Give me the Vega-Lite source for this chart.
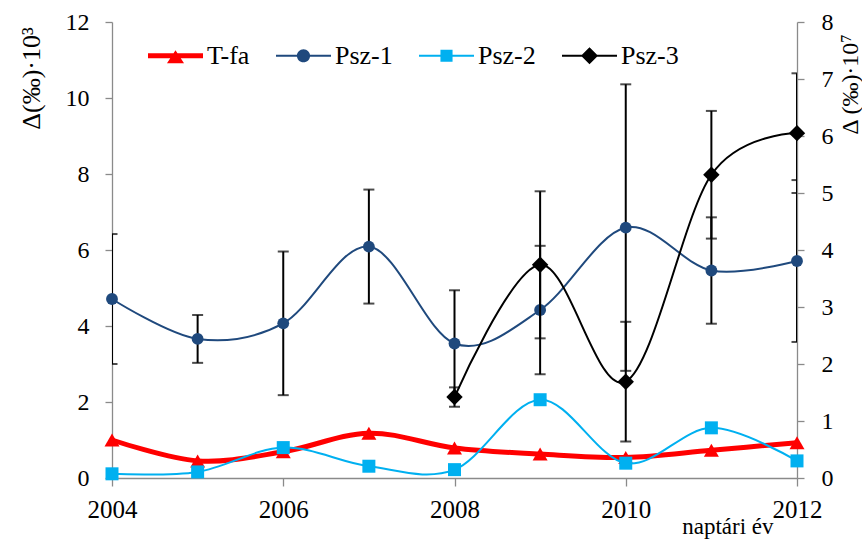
{
  "$schema": "https://vega.github.io/schema/vega-lite/v6.json",
  "width": 685,
  "height": 456,
  "autosize": {"type": "none"},
  "padding": {"left": 112, "top": 22, "right": 65, "bottom": 64},
  "background": "white",
  "config": {
    "font": "'Liberation Serif', 'Times New Roman', serif",
    "view": {"stroke": null},
    "axis": {
      "grid": false,
      "domainColor": "#8a8a8a",
      "domainWidth": 1.3,
      "tickColor": "#8a8a8a",
      "tickWidth": 1.3,
      "labelColor": "black",
      "titleColor": "black",
      "labelFont": "'Liberation Serif', 'Times New Roman', serif",
      "titleFont": "'Liberation Serif', 'Times New Roman', serif",
      "titleFontWeight": "normal",
      "labelFlush": false,
      "labelOverlap": false
    }
  },
  "datasets": {
    "obs": [
      {"year": 2004, "series": "T-fa", "value": 1.0},
      {"year": 2005, "series": "T-fa", "value": 0.45},
      {"year": 2006, "series": "T-fa", "value": 0.69},
      {"year": 2007, "series": "T-fa", "value": 1.18},
      {"year": 2008, "series": "T-fa", "value": 0.79},
      {"year": 2009, "series": "T-fa", "value": 0.63},
      {"year": 2010, "series": "T-fa", "value": 0.54},
      {"year": 2011, "series": "T-fa", "value": 0.73},
      {"year": 2012, "series": "T-fa", "value": 0.93},
      {"year": 2004, "series": "Psz-1", "value": 4.71, "err": 1.71},
      {"year": 2005, "series": "Psz-1", "value": 3.66, "err": 0.63},
      {"year": 2006, "series": "Psz-1", "value": 4.07, "err": 1.89},
      {"year": 2007, "series": "Psz-1", "value": 6.09, "err": 1.5},
      {"year": 2008, "series": "Psz-1", "value": 3.54, "err": 1.4},
      {"year": 2009, "series": "Psz-1", "value": 4.42, "err": 1.69},
      {"year": 2010, "series": "Psz-1", "value": 6.59, "err": 3.77},
      {"year": 2011, "series": "Psz-1", "value": 5.46, "err": 1.4},
      {"year": 2012, "series": "Psz-1", "value": 5.71, "err": 2.13},
      {"year": 2004, "series": "Psz-2", "value": 0.11},
      {"year": 2005, "series": "Psz-2", "value": 0.16},
      {"year": 2006, "series": "Psz-2", "value": 0.8},
      {"year": 2007, "series": "Psz-2", "value": 0.31},
      {"year": 2008, "series": "Psz-2", "value": 0.22},
      {"year": 2009, "series": "Psz-2", "value": 2.06},
      {"year": 2010, "series": "Psz-2", "value": 0.39},
      {"year": 2011, "series": "Psz-2", "value": 1.32},
      {"year": 2012, "series": "Psz-2", "value": 0.45},
      {"year": 2008, "series": "Psz-3", "value": 1.42, "err": 0.17},
      {"year": 2009, "series": "Psz-3", "value": 3.74, "err": 1.29},
      {"year": 2010, "series": "Psz-3", "value": 1.69, "err": 1.05},
      {"year": 2011, "series": "Psz-3", "value": 5.32, "err": 1.12},
      {"year": 2012, "series": "Psz-3", "value": 6.05, "err": 1.05}
    ]
  },
  "data": {"name": "obs"},
  "encoding": {
    "x": {
      "field": "year",
      "type": "quantitative",
      "scale": {"domain": [2004, 2012], "nice": false, "zero": false},
      "axis": {
        "values": [2004, 2006, 2008, 2010, 2012],
        "format": "d",
        "labelFontSize": 25,
        "tickSize": 8,
        "labelPadding": 11,
        "title": "naptári év",
        "titleFontSize": 23,
        "titleX": 661,
        "titleY": 55,
        "titleAlign": "right",
        "titleBaseline": "alphabetic"
      }
    }
  },
  "layer": [
    {
      "encoding": {
        "y": {
          "field": "value",
          "type": "quantitative",
          "scale": {"domain": [0, 12], "nice": false},
          "axis": {
            "values": [0, 2, 4, 6, 8, 10, 12],
            "labelFontSize": 24,
            "tickSize": 7,
            "labelPadding": 16,
            "title": "Δ(‰)·10³",
            "titleFontSize": 26,
            "titleAngle": 270,
            "titleX": -73,
            "titleY": 56,
            "titleAlign": "center",
            "titleBaseline": "alphabetic"
          }
        }
      },
      "layer": [
        {
          "transform": [{"filter": "datum.series === 'Psz-1'"}],
          "mark": {
            "type": "errorbar",
            "clip": true,
            "color": "black",
            "rule": {"strokeWidth": 2, "color": "black"},
            "ticks": {"size": 11, "thickness": 2, "color": "black"}
          },
          "encoding": {"yError": {"field": "err"}}
        },
        {
          "transform": [{"filter": "datum.series === 'T-fa'"}],
          "mark": {"type": "line", "interpolate": "cardinal", "color": "#ff0000", "strokeWidth": 5, "strokeCap": "round"},
          "encoding": {}
        },
        {
          "transform": [{"filter": "datum.series === 'T-fa'"}],
          "mark": {"type": "point", "shape": "triangle-up", "filled": true, "size": 225, "color": "#ff0000", "opacity": 1},
          "encoding": {}
        },
        {
          "transform": [{"filter": "datum.series === 'Psz-1'"}],
          "mark": {"type": "line", "interpolate": "cardinal", "color": "#1f497d", "strokeWidth": 2},
          "encoding": {}
        },
        {
          "transform": [{"filter": "datum.series === 'Psz-1'"}],
          "mark": {"type": "point", "shape": "circle", "filled": true, "size": 140, "color": "#1f497d", "opacity": 1},
          "encoding": {}
        },
        {
          "transform": [{"filter": "datum.series === 'Psz-2'"}],
          "mark": {"type": "line", "interpolate": "cardinal", "color": "#00b0f0", "strokeWidth": 2},
          "encoding": {}
        },
        {
          "transform": [{"filter": "datum.series === 'Psz-2'"}],
          "mark": {"type": "point", "shape": "square", "filled": true, "size": 169, "color": "#00b0f0", "opacity": 1},
          "encoding": {}
        },
        {
          "mark": {"type": "point", "filled": true, "opacity": 0},
          "encoding": {
            "color": {
              "field": "series",
              "type": "nominal",
              "scale": {
                "domain": ["T-fa", "Psz-1", "Psz-2", "Psz-3"],
                "range": ["#ff0000", "#1f497d", "#00b0f0", "#000000"]
              },
              "legend": {
                "orient": "none", "legendX": 36, "legendY": 6, "direction": "horizontal", "columns": 4,
                "title": null, "padding": 0, "symbolSize": 3025, "symbolStrokeWidth": 0, "symbolOpacity": 1,
                "labelFontSize": 26, "labelFont": "'Liberation Serif', 'Times New Roman', serif", "labelColor": "black", "labelOffset": 4,
                "labelLimit": 0, "columnPadding": 26
              }
            },
            "shape": {
              "field": "series",
              "type": "nominal",
              "scale": {
                "domain": ["T-fa", "Psz-1", "Psz-2", "Psz-3"],
                "range": [
                  "M-1,-0.09H1V0.09H-1Z M0,-0.2L0.31,0.27H-0.31Z",
                  "M-1,-0.036H1V0.036H-1Z M-0.24,0A0.24,0.24,0,1,1,0.24,0A0.24,0.24,0,1,1,-0.24,0Z",
                  "M-1,-0.036H1V0.036H-1Z M-0.22,-0.22H0.22V0.22H-0.22Z",
                  "M-1,-0.036H1V0.036H-1Z M0,-0.31L0.31,0L0,0.31L-0.31,0Z"
                ]
              },
              "legend": {
                "orient": "none", "legendX": 36, "legendY": 6, "direction": "horizontal", "columns": 4,
                "title": null, "padding": 0, "symbolSize": 3025, "symbolStrokeWidth": 0, "symbolOpacity": 1,
                "labelFontSize": 26, "labelFont": "'Liberation Serif', 'Times New Roman', serif", "labelColor": "black", "labelOffset": 4,
                "labelLimit": 0, "columnPadding": 26
              }
            }
          }
        }
      ]
    },
    {
      "transform": [{"filter": "datum.series === 'Psz-3'"}],
      "encoding": {
        "y": {
          "field": "value",
          "type": "quantitative",
          "scale": {"domain": [0, 8], "nice": false},
          "axis": {
            "orient": "right",
            "values": [0, 1, 2, 3, 4, 5, 6, 7, 8],
            "labelFontSize": 24,
            "tickSize": 7,
            "labelPadding": 17,
            "title": "Δ (‰)·10⁷",
            "titleFontSize": 24,
            "titleAngle": 270,
            "titleX": 60,
            "titleY": 62,
            "titleAlign": "center",
            "titleBaseline": "alphabetic"
          }
        }
      },
      "layer": [
        {
          "mark": {
            "type": "errorbar",
            "clip": true,
            "color": "black",
            "rule": {"strokeWidth": 2, "color": "black"},
            "ticks": {"size": 11, "thickness": 2, "color": "black"}
          },
          "encoding": {"yError": {"field": "err"}}
        },
        {
          "mark": {"type": "line", "interpolate": "cardinal", "color": "#000000", "strokeWidth": 2},
          "encoding": {}
        },
        {
          "mark": {"type": "point", "shape": "diamond", "filled": true, "size": 270, "color": "#000000", "opacity": 1},
          "encoding": {}
        }
      ]
    }
  ],
  "resolve": {"scale": {"y": "independent"}}
}
